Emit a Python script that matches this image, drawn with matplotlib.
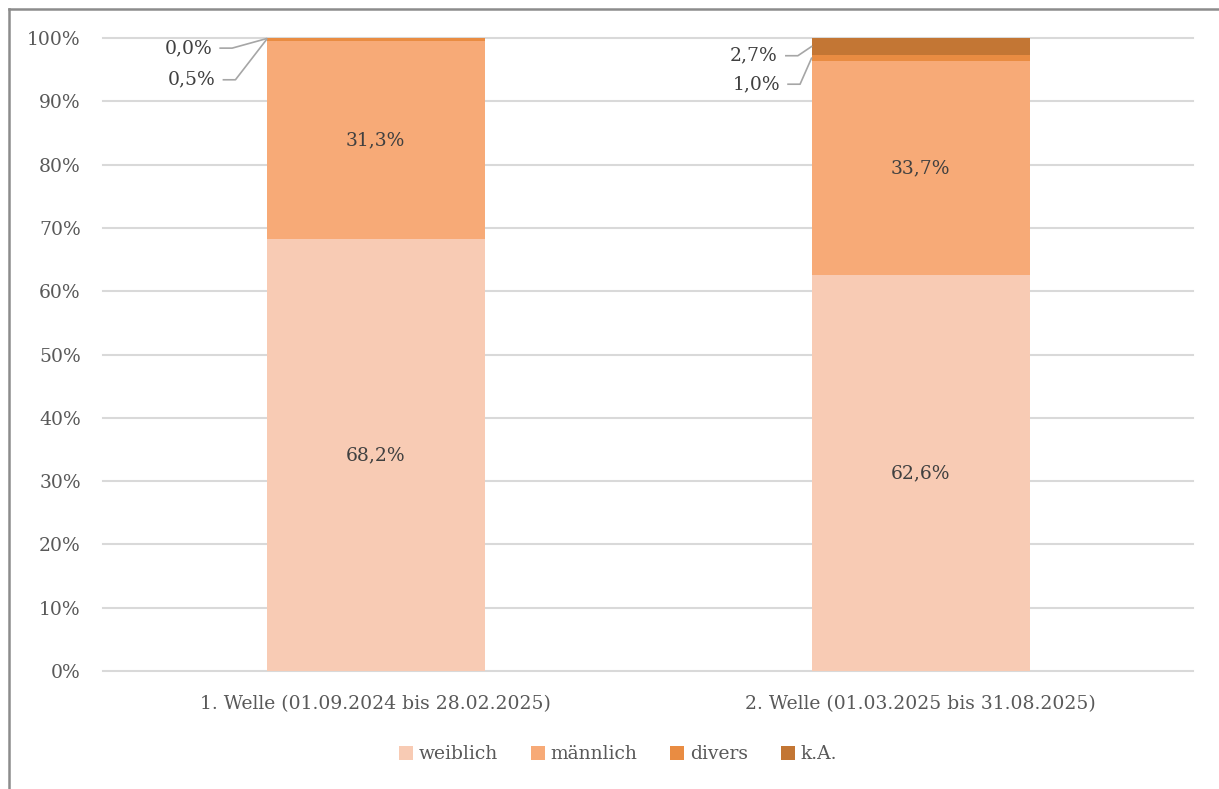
import numpy as np
import matplotlib
matplotlib.use('Agg')
import matplotlib.pyplot as plt
from matplotlib.lines import Line2D
from matplotlib.patches import Patch

categories = ['1. Welle (01.09.2024 bis 28.02.2025)', '2. Welle (01.03.2025 bis 31.08.2025)']
series_names = ['weiblich', 'männlich', 'divers', 'k.A.']
weiblich = [68.2, 62.6]
maennlich = [31.3, 33.7]
divers = [0.5, 1.0]
ka = [0.0, 2.7]
colors = ['#F8CBB4', '#F7AA77', '#E98C42', '#C37634']

plt.rcParams['font.family'] = ['DejaVu Serif']
txt = '#595959'
fs = 13.5

fig = plt.figure(figsize=(12.19, 7.89), dpi=100)
ax = fig.add_axes([103/1219, 1-671/789, 1090/1219, 633/789])

x = np.arange(len(categories))
width = 0.4
values = [weiblich, maennlich, divers, ka]
bottom = np.zeros(len(categories))
for name, vals, c in zip(series_names, values, colors):
    ax.bar(x, vals, width, bottom=bottom, color=c, label=name, zorder=2)
    bottom = bottom + np.array(vals)

# labels inside the two big segments
for i in range(len(categories)):
    ax.text(x[i], weiblich[i]/2, f'{weiblich[i]:.1f}%'.replace('.', ','),
            ha='center', va='center', fontsize=fs, color='#404040')
    ax.text(x[i], weiblich[i] + maennlich[i]/2, f'{maennlich[i]:.1f}%'.replace('.', ','),
            ha='center', va='center', fontsize=fs, color='#404040')

# small segments: labels left of bar with leader lines
label_y = {(0, 'ka'): 98.4, (0, 'div'): 93.4, (1, 'ka'): 97.2, (1, 'div'): 92.7}
text_dx = {(0, 'ka'): -0.300, (0, 'div'): -0.294, (1, 'ka'): -0.262, (1, 'div'): -0.258}
for i in range(len(categories)):
    base = weiblich[i] + maennlich[i]
    for key, val, mid in [('ka', ka[i], base + divers[i] + ka[i]/2),
                          ('div', divers[i], base + divers[i]/2)]:
        ty = label_y[(i, key)]
        tx = x[i] + text_dx[(i, key)]
        ax.text(tx, ty, f'{val:.1f}%'.replace('.', ','), ha='right', va='center',
                fontsize=fs, color='#404040')
        x0 = tx + 0.015
        x1 = x0 + 0.022
        ax.plot([x0, x1, x[i] - width/2], [ty, ty, min(mid, 99.9)],
                color='#A6A6A6', lw=1.2, zorder=3, clip_on=False)

ax.set_ylim(0, 100)
ax.set_xlim(-0.5, 1.5)
ax.set_yticks(np.arange(0, 101, 10))
ax.set_yticklabels([f'{v}%' for v in range(0, 101, 10)])
ax.set_xticks(x)
ax.set_xticklabels(categories)
ax.tick_params(axis='both', length=0, labelsize=fs, colors=txt)
ax.tick_params(axis='y', pad=16)
ax.tick_params(axis='x', pad=17)
ax.yaxis.grid(True, color='#D9D9D9', lw=1.5, zorder=0)
for gl in ax.get_ygridlines():
    gl.set_clip_on(False)
ax.set_axisbelow(True)
for s in ax.spines.values():
    s.set_visible(False)

handles = [Patch(facecolor=c, edgecolor='none') for c in colors]
leg = fig.legend(handles, series_names, loc='center', bbox_to_anchor=(0.507, 0.044),
                 ncol=4, frameon=False, fontsize=fs, handlelength=0.75, handleheight=0.75,
                 handletextpad=0.3, columnspacing=1.75)
for t in leg.get_texts():
    t.set_color(txt)

# outer frame (left and top only)
fig.add_artist(Line2D([9/1219, 9/1219], [0, 1-9/789], color='#8C8C8C', lw=1.8))
fig.add_artist(Line2D([9/1219, 1], [1-9/789, 1-9/789], color='#8C8C8C', lw=1.8))

fig.savefig('out.png', dpi=100)
